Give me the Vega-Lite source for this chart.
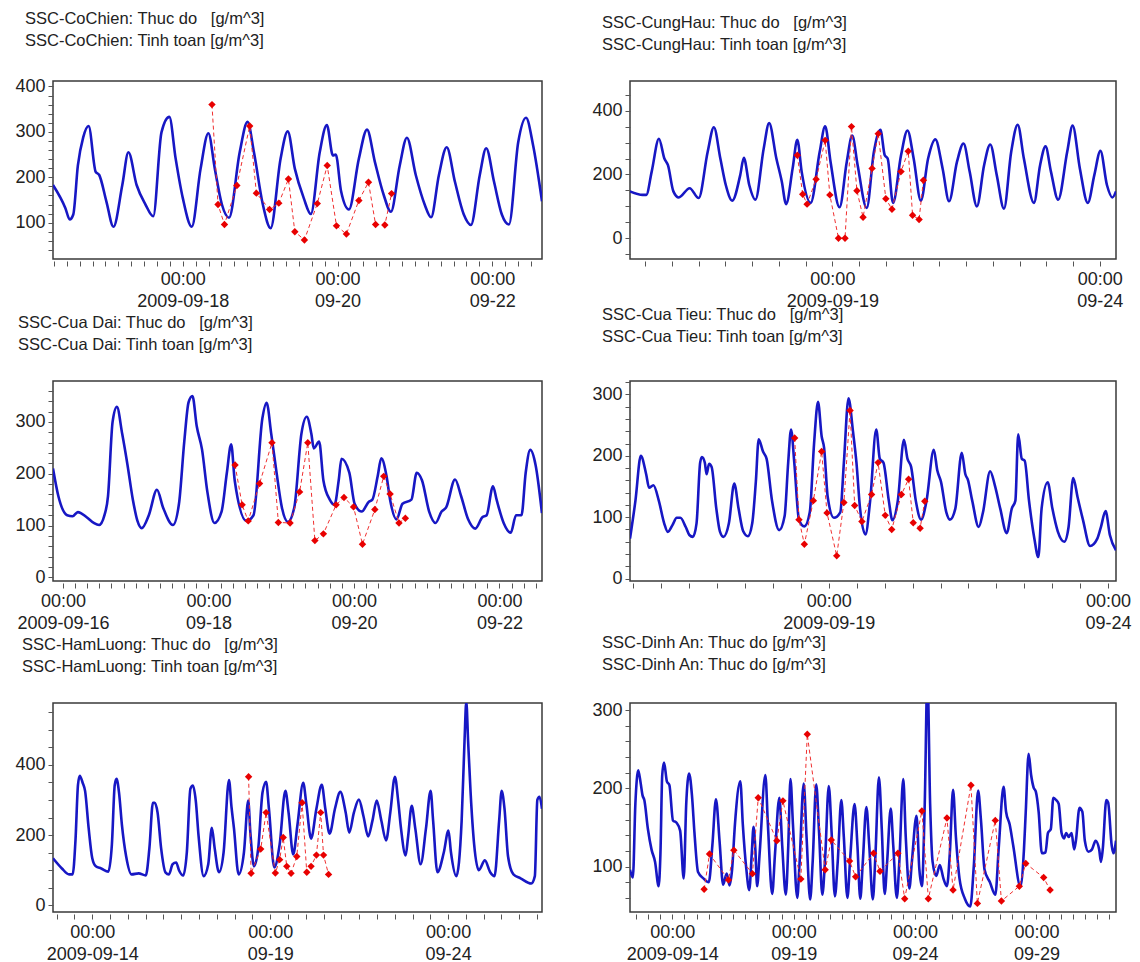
{
  "$schema": "https://vega.github.io/schema/vega-lite/v6.json",
  "padding": {"left": 14, "top": 10, "right": 5, "bottom": 5},
  "background": "white",
  "columns": 2,
  "spacing": {"row": 122, "column": 88},
  "bounds": "flush",
  "config": {
    "font": "Liberation Sans",
    "view": {"stroke": "#3a3a3a", "strokeWidth": 1.5},
    "axis": {"labelFont": "Liberation Sans", "labelFontSize": 18, "labelColor": "#222222", "tickColor": "#555555", "domain": false, "labelOverlap": false, "grid": false},
    "title": {"anchor": "start", "font": "Liberation Sans", "fontSize": 16.5, "fontWeight": "normal", "color": "#222222", "offset": 28, "lineHeight": 22, "dx": 10}
  },
  "datasets": {
    "p1": [
      {"h":103.73,"v":183,"s":"sim"},{"h":107.58,"v":132,"s":"sim"},{"h":108.92,"v":107,"s":"sim"},{"h":110.02,"v":118,"s":"sim"},{"h":111.45,"v":226,"s":"sim"},{"h":113.1,"v":288,"s":"sim"},{"h":114.77,"v":313,"s":"sim"},{"h":116.97,"v":212,"s":"sim"},{"h":118.07,"v":205,"s":"sim"},{"h":120.28,"v":147,"s":"sim"},{"h":122.48,"v":91,"s":"sim"},{"h":125.23,"v":183,"s":"sim"},{"h":127.12,"v":255,"s":"sim"},{"h":129.67,"v":183,"s":"sim"},{"h":132.42,"v":140,"s":"sim"},{"h":134.83,"v":114,"s":"sim"},{"h":137.38,"v":299,"s":"sim"},{"h":139.82,"v":333,"s":"sim"},{"h":141.78,"v":241,"s":"sim"},{"h":144,"v":154,"s":"sim"},{"h":146.77,"v":91,"s":"sim"},{"h":149.52,"v":219,"s":"sim"},{"h":151.93,"v":297,"s":"sim"},{"h":153.93,"v":219,"s":"sim"},{"h":156.13,"v":140,"s":"sim"},{"h":158.35,"v":111,"s":"sim"},{"h":161.65,"v":255,"s":"sim"},{"h":164.08,"v":322,"s":"sim"},{"h":166.07,"v":255,"s":"sim"},{"h":168.83,"v":140,"s":"sim"},{"h":171.25,"v":88,"s":"sim"},{"h":174.33,"v":241,"s":"sim"},{"h":176.55,"v":301,"s":"sim"},{"h":178.75,"v":219,"s":"sim"},{"h":181.52,"v":154,"s":"sim"},{"h":183.72,"v":119,"s":"sim"},{"h":186.48,"v":255,"s":"sim"},{"h":188.68,"v":315,"s":"sim"},{"h":190.57,"v":248,"s":"sim"},{"h":191.45,"v":250,"s":"sim"},{"h":193.1,"v":169,"s":"sim"},{"h":195.53,"v":129,"s":"sim"},{"h":198.62,"v":241,"s":"sim"},{"h":201.15,"v":305,"s":"sim"},{"h":203.58,"v":234,"s":"sim"},{"h":206.33,"v":161,"s":"sim"},{"h":208.55,"v":124,"s":"sim"},{"h":211.3,"v":226,"s":"sim"},{"h":213.52,"v":287,"s":"sim"},{"h":216.27,"v":205,"s":"sim"},{"h":219.03,"v":140,"s":"sim"},{"h":221.02,"v":112,"s":"sim"},{"h":223.45,"v":205,"s":"sim"},{"h":225.87,"v":266,"s":"sim"},{"h":228.42,"v":190,"s":"sim"},{"h":231.17,"v":118,"s":"sim"},{"h":233.38,"v":95,"s":"sim"},{"h":236.13,"v":205,"s":"sim"},{"h":238.12,"v":264,"s":"sim"},{"h":240.55,"v":190,"s":"sim"},{"h":242.97,"v":118,"s":"sim"},{"h":245.18,"v":96,"s":"sim"},{"h":248.05,"v":277,"s":"sim"},{"h":250.48,"v":331,"s":"sim"},{"h":252.68,"v":270,"s":"sim"},{"h":255.43,"v":147,"s":"sim"},
      {"h":153.05,"v":360,"s":"obs"},{"h":154.92,"v":140,"s":"obs"},{"h":156.92,"v":96,"s":"obs"},{"h":160.77,"v":182,"s":"obs"},{"h":164.75,"v":313,"s":"obs"},{"h":166.83,"v":165,"s":"obs"},{"h":170.92,"v":129,"s":"obs"},{"h":173.78,"v":143,"s":"obs"},{"h":176.77,"v":196,"s":"obs"},{"h":178.75,"v":80,"s":"obs"},{"h":181.73,"v":62,"s":"obs"},{"h":185.72,"v":142,"s":"obs"},{"h":188.8,"v":226,"s":"obs"},{"h":191.67,"v":93,"s":"obs"},{"h":194.75,"v":75,"s":"obs"},{"h":198.62,"v":149,"s":"obs"},{"h":201.6,"v":189,"s":"obs"},{"h":203.8,"v":96,"s":"obs"},{"h":206.67,"v":95,"s":"obs"},{"h":208.77,"v":164,"s":"obs"}
    ],
    "p2": [
      {"h":77.18,"v":147,"s":"sim"},{"h":82.87,"v":136,"s":"sim"},{"h":84.48,"v":136,"s":"sim"},{"h":86.92,"v":209,"s":"sim"},{"h":90.17,"v":312,"s":"sim"},{"h":92.6,"v":250,"s":"sim"},{"h":94.22,"v":229,"s":"sim"},{"h":96.65,"v":147,"s":"sim"},{"h":99.08,"v":128,"s":"sim"},{"h":103.95,"v":157,"s":"sim"},{"h":108,"v":126,"s":"sim"},{"h":112.05,"v":271,"s":"sim"},{"h":114.82,"v":348,"s":"sim"},{"h":117.73,"v":250,"s":"sim"},{"h":120.17,"v":167,"s":"sim"},{"h":123.08,"v":118,"s":"sim"},{"h":126.65,"v":198,"s":"sim"},{"h":128.27,"v":252,"s":"sim"},{"h":130.7,"v":167,"s":"sim"},{"h":133.47,"v":121,"s":"sim"},{"h":137.18,"v":281,"s":"sim"},{"h":139.62,"v":361,"s":"sim"},{"h":142.87,"v":250,"s":"sim"},{"h":145.3,"v":178,"s":"sim"},{"h":147.23,"v":107,"s":"sim"},{"h":150.17,"v":219,"s":"sim"},{"h":152.27,"v":309,"s":"sim"},{"h":154.22,"v":209,"s":"sim"},{"h":158.27,"v":111,"s":"sim"},{"h":162.32,"v":271,"s":"sim"},{"h":164.77,"v":351,"s":"sim"},{"h":167.18,"v":240,"s":"sim"},{"h":171.23,"v":97,"s":"sim"},{"h":174.48,"v":240,"s":"sim"},{"h":176.92,"v":322,"s":"sim"},{"h":179.35,"v":229,"s":"sim"},{"h":183.42,"v":95,"s":"sim"},{"h":186.65,"v":271,"s":"sim"},{"h":189.57,"v":340,"s":"sim"},{"h":191.52,"v":260,"s":"sim"},{"h":192.82,"v":250,"s":"sim"},{"h":195.23,"v":111,"s":"sim"},{"h":198.82,"v":260,"s":"sim"},{"h":201.73,"v":338,"s":"sim"},{"h":204.48,"v":250,"s":"sim"},{"h":207.73,"v":118,"s":"sim"},{"h":210.97,"v":250,"s":"sim"},{"h":214.22,"v":310,"s":"sim"},{"h":217.47,"v":219,"s":"sim"},{"h":220.38,"v":116,"s":"sim"},{"h":223.95,"v":240,"s":"sim"},{"h":226.87,"v":297,"s":"sim"},{"h":229.62,"v":209,"s":"sim"},{"h":232.87,"v":100,"s":"sim"},{"h":236.1,"v":229,"s":"sim"},{"h":238.87,"v":294,"s":"sim"},{"h":241.78,"v":198,"s":"sim"},{"h":245.03,"v":93,"s":"sim"},{"h":248.27,"v":271,"s":"sim"},{"h":251.18,"v":356,"s":"sim"},{"h":253.95,"v":250,"s":"sim"},{"h":258.48,"v":111,"s":"sim"},{"h":261.23,"v":229,"s":"sim"},{"h":263.68,"v":288,"s":"sim"},{"h":266.1,"v":209,"s":"sim"},{"h":269.35,"v":121,"s":"sim"},{"h":273.4,"v":271,"s":"sim"},{"h":275.83,"v":353,"s":"sim"},{"h":279.08,"v":219,"s":"sim"},{"h":282.65,"v":111,"s":"sim"},{"h":285.57,"v":198,"s":"sim"},{"h":288.32,"v":274,"s":"sim"},{"h":291.23,"v":167,"s":"sim"},{"h":293.68,"v":128,"s":"sim"},{"h":295.3,"v":147,"s":"sim"},
      {"h":152.27,"v":260,"s":"obs"},{"h":154.7,"v":138,"s":"obs"},{"h":156.65,"v":107,"s":"obs"},{"h":160.7,"v":185,"s":"obs"},{"h":164.77,"v":307,"s":"obs"},{"h":166.87,"v":136,"s":"obs"},{"h":170.75,"v":0,"s":"obs"},{"h":173.68,"v":0,"s":"obs"},{"h":176.58,"v":350,"s":"obs"},{"h":179.03,"v":149,"s":"obs"},{"h":181.78,"v":66,"s":"obs"},{"h":185.83,"v":219,"s":"obs"},{"h":188.58,"v":328,"s":"obs"},{"h":192,"v":124,"s":"obs"},{"h":194.75,"v":91,"s":"obs"},{"h":198.82,"v":209,"s":"obs"},{"h":202.05,"v":273,"s":"obs"},{"h":204,"v":72,"s":"obs"},{"h":206.92,"v":59,"s":"obs"},{"h":208.87,"v":182,"s":"obs"}
    ],
    "p3": [
      {"h":92.72,"v":210,"s":"sim"},{"h":94.48,"v":157,"s":"sim"},{"h":97.4,"v":120,"s":"sim"},{"h":99.17,"v":118,"s":"sim"},{"h":100.92,"v":126,"s":"sim"},{"h":103.83,"v":116,"s":"sim"},{"h":106.18,"v":105,"s":"sim"},{"h":107.93,"v":101,"s":"sim"},{"h":109.7,"v":120,"s":"sim"},{"h":110.87,"v":157,"s":"sim"},{"h":112.38,"v":300,"s":"sim"},{"h":113.8,"v":329,"s":"sim"},{"h":115.55,"v":277,"s":"sim"},{"h":117.3,"v":217,"s":"sim"},{"h":119.07,"v":150,"s":"sim"},{"h":120.58,"v":109,"s":"sim"},{"h":121.98,"v":95,"s":"sim"},{"h":124.33,"v":120,"s":"sim"},{"h":127.02,"v":169,"s":"sim"},{"h":129.02,"v":135,"s":"sim"},{"h":132.28,"v":101,"s":"sim"},{"h":134.28,"v":142,"s":"sim"},{"h":136.03,"v":262,"s":"sim"},{"h":137.45,"v":338,"s":"sim"},{"h":138.73,"v":350,"s":"sim"},{"h":140.13,"v":292,"s":"sim"},{"h":141.88,"v":247,"s":"sim"},{"h":143.65,"v":165,"s":"sim"},{"h":145.98,"v":105,"s":"sim"},{"h":148.33,"v":127,"s":"sim"},{"h":150.08,"v":202,"s":"sim"},{"h":151.5,"v":257,"s":"sim"},{"h":152.67,"v":187,"s":"sim"},{"h":156.53,"v":109,"s":"sim"},{"h":158.87,"v":120,"s":"sim"},{"h":161.8,"v":307,"s":"sim"},{"h":163.2,"v":337,"s":"sim"},{"h":164.72,"v":277,"s":"sim"},{"h":166.48,"v":202,"s":"sim"},{"h":168.23,"v":135,"s":"sim"},{"h":170.22,"v":107,"s":"sim"},{"h":172.33,"v":135,"s":"sim"},{"h":174.67,"v":277,"s":"sim"},{"h":176.43,"v":310,"s":"sim"},{"h":177.95,"v":277,"s":"sim"},{"h":178.77,"v":249,"s":"sim"},{"h":180.52,"v":262,"s":"sim"},{"h":181.93,"v":187,"s":"sim"},{"h":184.03,"v":150,"s":"sim"},{"h":185.57,"v":140,"s":"sim"},{"h":186.97,"v":187,"s":"sim"},{"h":187.9,"v":229,"s":"sim"},{"h":190.48,"v":202,"s":"sim"},{"h":192.23,"v":142,"s":"sim"},{"h":194.57,"v":127,"s":"sim"},{"h":196.92,"v":146,"s":"sim"},{"h":198.08,"v":150,"s":"sim"},{"h":199.83,"v":195,"s":"sim"},{"h":201.02,"v":230,"s":"sim"},{"h":202.77,"v":195,"s":"sim"},{"h":203.93,"v":150,"s":"sim"},{"h":206.05,"v":112,"s":"sim"},{"h":208.03,"v":142,"s":"sim"},{"h":210.97,"v":150,"s":"sim"},{"h":212.72,"v":202,"s":"sim"},{"h":214.48,"v":187,"s":"sim"},{"h":216.82,"v":127,"s":"sim"},{"h":218.92,"v":105,"s":"sim"},{"h":220.92,"v":127,"s":"sim"},{"h":222.43,"v":135,"s":"sim"},{"h":225.37,"v":189,"s":"sim"},{"h":227.35,"v":157,"s":"sim"},{"h":229.68,"v":112,"s":"sim"},{"h":232.03,"v":94,"s":"sim"},{"h":234.38,"v":116,"s":"sim"},{"h":235.78,"v":120,"s":"sim"},{"h":237.88,"v":176,"s":"sim"},{"h":239.07,"v":150,"s":"sim"},{"h":241.4,"v":105,"s":"sim"},{"h":243.73,"v":86,"s":"sim"},{"h":245.5,"v":120,"s":"sim"},{"h":247.27,"v":120,"s":"sim"},{"h":248.67,"v":202,"s":"sim"},{"h":250.18,"v":246,"s":"sim"},{"h":251.93,"v":217,"s":"sim"},{"h":254.03,"v":124,"s":"sim"},
      {"h":152.78,"v":217,"s":"obs"},{"h":155.12,"v":140,"s":"obs"},{"h":157.12,"v":109,"s":"obs"},{"h":160.87,"v":181,"s":"obs"},{"h":164.97,"v":260,"s":"obs"},{"h":167.07,"v":106,"s":"obs"},{"h":170.93,"v":105,"s":"obs"},{"h":174.08,"v":165,"s":"obs"},{"h":176.78,"v":260,"s":"obs"},{"h":179.12,"v":71,"s":"obs"},{"h":181.93,"v":84,"s":"obs"},{"h":186.13,"v":140,"s":"obs"},{"h":188.72,"v":154,"s":"obs"},{"h":191.88,"v":136,"s":"obs"},{"h":194.82,"v":64,"s":"obs"},{"h":198.9,"v":131,"s":"obs"},{"h":201.83,"v":195,"s":"obs"},{"h":203.93,"v":161,"s":"obs"},{"h":206.87,"v":105,"s":"obs"},{"h":208.97,"v":114,"s":"obs"}
    ],
    "p4": [
      {"h":82.58,"v":65,"s":"sim"},{"h":84.92,"v":127,"s":"sim"},{"h":87.23,"v":200,"s":"sim"},{"h":89.53,"v":170,"s":"sim"},{"h":90.78,"v":148,"s":"sim"},{"h":92.63,"v":152,"s":"sim"},{"h":94.95,"v":127,"s":"sim"},{"h":97.27,"v":90,"s":"sim"},{"h":98.82,"v":76,"s":"sim"},{"h":100.82,"v":87,"s":"sim"},{"h":102.67,"v":99,"s":"sim"},{"h":104.22,"v":99,"s":"sim"},{"h":106.53,"v":84,"s":"sim"},{"h":108.08,"v":71,"s":"sim"},{"h":109.62,"v":68,"s":"sim"},{"h":111.17,"v":90,"s":"sim"},{"h":112.72,"v":189,"s":"sim"},{"h":113.48,"v":198,"s":"sim"},{"h":114.72,"v":189,"s":"sim"},{"h":115.48,"v":170,"s":"sim"},{"h":116.57,"v":187,"s":"sim"},{"h":117.65,"v":182,"s":"sim"},{"h":119.67,"v":114,"s":"sim"},{"h":121.2,"v":77,"s":"sim"},{"h":122.75,"v":68,"s":"sim"},{"h":125.07,"v":90,"s":"sim"},{"h":127.38,"v":155,"s":"sim"},{"h":129.23,"v":114,"s":"sim"},{"h":131.23,"v":77,"s":"sim"},{"h":133.25,"v":69,"s":"sim"},{"h":135.1,"v":90,"s":"sim"},{"h":136.65,"v":158,"s":"sim"},{"h":137.88,"v":227,"s":"sim"},{"h":139.73,"v":207,"s":"sim"},{"h":141.28,"v":195,"s":"sim"},{"h":143.6,"v":127,"s":"sim"},{"h":146.68,"v":79,"s":"sim"},{"h":149.02,"v":102,"s":"sim"},{"h":150.55,"v":189,"s":"sim"},{"h":151.78,"v":243,"s":"sim"},{"h":153.17,"v":189,"s":"sim"},{"h":155.18,"v":96,"s":"sim"},{"h":157.5,"v":85,"s":"sim"},{"h":159.82,"v":108,"s":"sim"},{"h":161.67,"v":220,"s":"sim"},{"h":163.37,"v":288,"s":"sim"},{"h":164.92,"v":232,"s":"sim"},{"h":165.98,"v":213,"s":"sim"},{"h":167.53,"v":133,"s":"sim"},{"h":170.17,"v":99,"s":"sim"},{"h":172.93,"v":108,"s":"sim"},{"h":174.48,"v":189,"s":"sim"},{"h":176.48,"v":294,"s":"sim"},{"h":178.35,"v":241,"s":"sim"},{"h":179.88,"v":189,"s":"sim"},{"h":181.43,"v":114,"s":"sim"},{"h":183.75,"v":72,"s":"sim"},{"h":185.77,"v":127,"s":"sim"},{"h":188.38,"v":243,"s":"sim"},{"h":189.93,"v":195,"s":"sim"},{"h":191.47,"v":189,"s":"sim"},{"h":193.78,"v":127,"s":"sim"},{"h":195.33,"v":95,"s":"sim"},{"h":197.65,"v":127,"s":"sim"},{"h":200.28,"v":226,"s":"sim"},{"h":201.82,"v":195,"s":"sim"},{"h":203.37,"v":182,"s":"sim"},{"h":205.37,"v":127,"s":"sim"},{"h":207.68,"v":96,"s":"sim"},{"h":210,"v":127,"s":"sim"},{"h":213.1,"v":210,"s":"sim"},{"h":214.63,"v":176,"s":"sim"},{"h":216.18,"v":158,"s":"sim"},{"h":218.5,"v":108,"s":"sim"},{"h":220.05,"v":96,"s":"sim"},{"h":222.37,"v":114,"s":"sim"},{"h":225.13,"v":205,"s":"sim"},{"h":226.68,"v":170,"s":"sim"},{"h":227.77,"v":161,"s":"sim"},{"h":229.62,"v":127,"s":"sim"},{"h":232.4,"v":84,"s":"sim"},{"h":234.25,"v":108,"s":"sim"},{"h":237.33,"v":175,"s":"sim"},{"h":239.35,"v":152,"s":"sim"},{"h":241.67,"v":114,"s":"sim"},{"h":244.45,"v":74,"s":"sim"},{"h":246.62,"v":114,"s":"sim"},{"h":248.17,"v":127,"s":"sim"},{"h":249.38,"v":235,"s":"sim"},{"h":250.93,"v":195,"s":"sim"},{"h":252.17,"v":192,"s":"sim"},{"h":254.02,"v":127,"s":"sim"},{"h":256.33,"v":65,"s":"sim"},{"h":258.03,"v":35,"s":"sim"},{"h":259.43,"v":114,"s":"sim"},{"h":262.05,"v":157,"s":"sim"},{"h":264.07,"v":114,"s":"sim"},{"h":266.37,"v":77,"s":"sim"},{"h":269.17,"v":60,"s":"sim"},{"h":271.02,"v":84,"s":"sim"},{"h":273.02,"v":164,"s":"sim"},{"h":274.87,"v":133,"s":"sim"},{"h":277.18,"v":96,"s":"sim"},{"h":280.28,"v":53,"s":"sim"},{"h":283.37,"v":65,"s":"sim"},{"h":284.92,"v":84,"s":"sim"},{"h":286.92,"v":110,"s":"sim"},{"h":288.77,"v":71,"s":"sim"},{"h":291.4,"v":46,"s":"sim"},
      {"h":153.33,"v":229,"s":"obs"},{"h":155.18,"v":96,"s":"obs"},{"h":157.5,"v":56,"s":"obs"},{"h":161.37,"v":127,"s":"obs"},{"h":164.92,"v":207,"s":"obs"},{"h":167.23,"v":107,"s":"obs"},{"h":171.4,"v":37,"s":"obs"},{"h":174.48,"v":124,"s":"obs"},{"h":177.12,"v":274,"s":"obs"},{"h":179.12,"v":119,"s":"obs"},{"h":182.22,"v":93,"s":"obs"},{"h":186.38,"v":137,"s":"obs"},{"h":189.17,"v":189,"s":"obs"},{"h":192.25,"v":103,"s":"obs"},{"h":195.03,"v":80,"s":"obs"},{"h":199.2,"v":137,"s":"obs"},{"h":202.28,"v":162,"s":"obs"},{"h":204.28,"v":91,"s":"obs"},{"h":207.23,"v":82,"s":"obs"},{"h":209.23,"v":126,"s":"obs"}
    ],
    "p5": [
      {"h":21.52,"v":134,"s":"sim"},{"h":27.53,"v":105,"s":"sim"},{"h":32.35,"v":88,"s":"sim"},{"h":34.77,"v":88,"s":"sim"},{"h":36.68,"v":185,"s":"sim"},{"h":38.37,"v":343,"s":"sim"},{"h":39.57,"v":369,"s":"sim"},{"h":41.5,"v":349,"s":"sim"},{"h":43.18,"v":325,"s":"sim"},{"h":45.58,"v":219,"s":"sim"},{"h":48,"v":134,"s":"sim"},{"h":50.4,"v":111,"s":"sim"},{"h":54.02,"v":105,"s":"sim"},{"h":58.83,"v":96,"s":"sim"},{"h":61.23,"v":173,"s":"sim"},{"h":63.17,"v":343,"s":"sim"},{"h":64.37,"v":360,"s":"sim"},{"h":66.05,"v":321,"s":"sim"},{"h":67.98,"v":230,"s":"sim"},{"h":70.87,"v":139,"s":"sim"},{"h":74.48,"v":88,"s":"sim"},{"h":79.28,"v":91,"s":"sim"},{"h":84.1,"v":85,"s":"sim"},{"h":86.52,"v":162,"s":"sim"},{"h":88.92,"v":292,"s":"sim"},{"h":90.13,"v":292,"s":"sim"},{"h":92.05,"v":264,"s":"sim"},{"h":94.45,"v":162,"s":"sim"},{"h":97.35,"v":94,"s":"sim"},{"h":99.75,"v":88,"s":"sim"},{"h":102.17,"v":117,"s":"sim"},{"h":104.57,"v":122,"s":"sim"},{"h":106.48,"v":100,"s":"sim"},{"h":109.38,"v":85,"s":"sim"},{"h":111.78,"v":151,"s":"sim"},{"h":114.2,"v":332,"s":"sim"},{"h":115.88,"v":341,"s":"sim"},{"h":117.8,"v":298,"s":"sim"},{"h":119.73,"v":196,"s":"sim"},{"h":123.1,"v":83,"s":"sim"},{"h":126.23,"v":117,"s":"sim"},{"h":128.63,"v":221,"s":"sim"},{"h":130.57,"v":162,"s":"sim"},{"h":133.45,"v":94,"s":"sim"},{"h":136.58,"v":151,"s":"sim"},{"h":140.2,"v":357,"s":"sim"},{"h":141.88,"v":281,"s":"sim"},{"h":143.57,"v":219,"s":"sim"},{"h":146.7,"v":88,"s":"sim"},{"h":150.3,"v":151,"s":"sim"},{"h":153.2,"v":298,"s":"sim"},{"h":154.63,"v":207,"s":"sim"},{"h":157.05,"v":111,"s":"sim"},{"h":159.93,"v":162,"s":"sim"},{"h":162.82,"v":321,"s":"sim"},{"h":165.23,"v":352,"s":"sim"},{"h":167.15,"v":275,"s":"sim"},{"h":170.77,"v":108,"s":"sim"},{"h":174.38,"v":173,"s":"sim"},{"h":178.23,"v":326,"s":"sim"},{"h":180.4,"v":264,"s":"sim"},{"h":183.53,"v":145,"s":"sim"},{"h":186.42,"v":230,"s":"sim"},{"h":190.27,"v":349,"s":"sim"},{"h":192.43,"v":287,"s":"sim"},{"h":195.57,"v":190,"s":"sim"},{"h":199.17,"v":275,"s":"sim"},{"h":202.78,"v":343,"s":"sim"},{"h":205.18,"v":275,"s":"sim"},{"h":208.08,"v":204,"s":"sim"},{"h":211.68,"v":275,"s":"sim"},{"h":215.3,"v":323,"s":"sim"},{"h":218.92,"v":264,"s":"sim"},{"h":221.32,"v":207,"s":"sim"},{"h":224.45,"v":264,"s":"sim"},{"h":227.82,"v":301,"s":"sim"},{"h":230.95,"v":253,"s":"sim"},{"h":234.08,"v":196,"s":"sim"},{"h":236.97,"v":241,"s":"sim"},{"h":239.85,"v":298,"s":"sim"},{"h":242.98,"v":241,"s":"sim"},{"h":246.12,"v":185,"s":"sim"},{"h":249,"v":264,"s":"sim"},{"h":252.13,"v":366,"s":"sim"},{"h":254.3,"v":298,"s":"sim"},{"h":256.22,"v":219,"s":"sim"},{"h":259.35,"v":142,"s":"sim"},{"h":261.03,"v":196,"s":"sim"},{"h":263.43,"v":283,"s":"sim"},{"h":265.85,"v":219,"s":"sim"},{"h":269.47,"v":117,"s":"sim"},{"h":273.07,"v":219,"s":"sim"},{"h":276.2,"v":326,"s":"sim"},{"h":277.88,"v":241,"s":"sim"},{"h":280.78,"v":94,"s":"sim"},{"h":285.12,"v":151,"s":"sim"},{"h":288.23,"v":213,"s":"sim"},{"h":289.92,"v":151,"s":"sim"},{"h":293.53,"v":83,"s":"sim"},{"h":297.13,"v":241,"s":"sim"},{"h":299.07,"v":468,"s":"sim"},{"h":300.27,"v":580,"s":"sim"},{"h":301.48,"v":468,"s":"sim"},{"h":303.17,"v":321,"s":"sim"},{"h":305.57,"v":173,"s":"sim"},{"h":308.7,"v":100,"s":"sim"},{"h":312.78,"v":128,"s":"sim"},{"h":316.4,"v":94,"s":"sim"},{"h":319.28,"v":83,"s":"sim"},{"h":322.42,"v":241,"s":"sim"},{"h":324.1,"v":326,"s":"sim"},{"h":326.03,"v":275,"s":"sim"},{"h":328.43,"v":139,"s":"sim"},{"h":332.05,"v":88,"s":"sim"},{"h":336.87,"v":77,"s":"sim"},{"h":344.08,"v":62,"s":"sim"},{"h":346.5,"v":83,"s":"sim"},{"h":348.18,"v":300,"s":"sim"},{"h":349.62,"v":309,"s":"sim"},{"h":351.32,"v":275,"s":"sim"},
      {"h":153.43,"v":366,"s":"obs"},{"h":155.13,"v":91,"s":"obs"},{"h":161.62,"v":160,"s":"obs"},{"h":165.23,"v":264,"s":"obs"},{"h":171.48,"v":92,"s":"obs"},{"h":174.38,"v":130,"s":"obs"},{"h":176.78,"v":193,"s":"obs"},{"h":179.18,"v":111,"s":"obs"},{"h":182.08,"v":91,"s":"obs"},{"h":185.93,"v":139,"s":"obs"},{"h":189.53,"v":292,"s":"obs"},{"h":192.67,"v":94,"s":"obs"},{"h":195.57,"v":111,"s":"obs"},{"h":199.17,"v":143,"s":"obs"},{"h":202.07,"v":264,"s":"obs"},{"h":203.98,"v":143,"s":"obs"},{"h":207.37,"v":88,"s":"obs"}
    ],
    "p6": [
      {"h":6.23,"v":96,"s":"sim"},{"h":9.07,"v":86,"s":"sim"},{"h":11.53,"v":180,"s":"sim"},{"h":14.37,"v":223,"s":"sim"},{"h":16.85,"v":206,"s":"sim"},{"h":18.62,"v":191,"s":"sim"},{"h":20.38,"v":185,"s":"sim"},{"h":23.93,"v":148,"s":"sim"},{"h":27.47,"v":122,"s":"sim"},{"h":31.02,"v":106,"s":"sim"},{"h":34.55,"v":75,"s":"sim"},{"h":36.32,"v":117,"s":"sim"},{"h":38.08,"v":217,"s":"sim"},{"h":39.87,"v":233,"s":"sim"},{"h":42.68,"v":209,"s":"sim"},{"h":45.17,"v":204,"s":"sim"},{"h":48.7,"v":159,"s":"sim"},{"h":52.25,"v":156,"s":"sim"},{"h":55.78,"v":146,"s":"sim"},{"h":59.33,"v":85,"s":"sim"},{"h":61.8,"v":180,"s":"sim"},{"h":64.63,"v":219,"s":"sim"},{"h":67.47,"v":191,"s":"sim"},{"h":69.95,"v":143,"s":"sim"},{"h":73.48,"v":93,"s":"sim"},{"h":78.8,"v":85,"s":"sim"},{"h":84.1,"v":80,"s":"sim"},{"h":87.63,"v":127,"s":"sim"},{"h":91.18,"v":186,"s":"sim"},{"h":94.72,"v":133,"s":"sim"},{"h":98.27,"v":77,"s":"sim"},{"h":101.8,"v":91,"s":"sim"},{"h":104.63,"v":76,"s":"sim"},{"h":107.12,"v":96,"s":"sim"},{"h":109.95,"v":154,"s":"sim"},{"h":115.25,"v":209,"s":"sim"},{"h":117.73,"v":154,"s":"sim"},{"h":121.27,"v":96,"s":"sim"},{"h":124.1,"v":70,"s":"sim"},{"h":126.58,"v":117,"s":"sim"},{"h":128.35,"v":151,"s":"sim"},{"h":130.12,"v":122,"s":"sim"},{"h":131.88,"v":75,"s":"sim"},{"h":134.37,"v":117,"s":"sim"},{"h":140.03,"v":217,"s":"sim"},{"h":142.52,"v":154,"s":"sim"},{"h":146.75,"v":65,"s":"sim"},{"h":149.58,"v":117,"s":"sim"},{"h":153.83,"v":188,"s":"sim"},{"h":156.67,"v":127,"s":"sim"},{"h":160.22,"v":64,"s":"sim"},{"h":162.68,"v":127,"s":"sim"},{"h":164.82,"v":212,"s":"sim"},{"h":167.28,"v":154,"s":"sim"},{"h":171.53,"v":60,"s":"sim"},{"h":173.67,"v":101,"s":"sim"},{"h":177.92,"v":206,"s":"sim"},{"h":180.73,"v":138,"s":"sim"},{"h":184.28,"v":58,"s":"sim"},{"h":186.77,"v":106,"s":"sim"},{"h":190.3,"v":205,"s":"sim"},{"h":193.13,"v":143,"s":"sim"},{"h":196.32,"v":64,"s":"sim"},{"h":199.15,"v":112,"s":"sim"},{"h":202.68,"v":203,"s":"sim"},{"h":205.52,"v":143,"s":"sim"},{"h":208.72,"v":62,"s":"sim"},{"h":211.53,"v":106,"s":"sim"},{"h":215.08,"v":185,"s":"sim"},{"h":217.57,"v":138,"s":"sim"},{"h":221.1,"v":60,"s":"sim"},{"h":223.93,"v":112,"s":"sim"},{"h":228.18,"v":180,"s":"sim"},{"h":231.02,"v":127,"s":"sim"},{"h":233.83,"v":59,"s":"sim"},{"h":236.32,"v":106,"s":"sim"},{"h":239.87,"v":176,"s":"sim"},{"h":242.68,"v":127,"s":"sim"},{"h":246.23,"v":58,"s":"sim"},{"h":248.72,"v":112,"s":"sim"},{"h":252.25,"v":214,"s":"sim"},{"h":255.08,"v":148,"s":"sim"},{"h":257.92,"v":65,"s":"sim"},{"h":260.38,"v":106,"s":"sim"},{"h":263.93,"v":174,"s":"sim"},{"h":266.42,"v":127,"s":"sim"},{"h":269.95,"v":60,"s":"sim"},{"h":272.42,"v":106,"s":"sim"},{"h":276.32,"v":212,"s":"sim"},{"h":278.78,"v":138,"s":"sim"},{"h":282.33,"v":72,"s":"sim"},{"h":284.82,"v":106,"s":"sim"},{"h":289.42,"v":165,"s":"sim"},{"h":292.25,"v":96,"s":"sim"},{"h":294.72,"v":75,"s":"sim"},{"h":297.55,"v":180,"s":"sim"},{"h":300.22,"v":345,"s":"sim"},{"h":302.87,"v":180,"s":"sim"},{"h":305.33,"v":106,"s":"sim"},{"h":308.88,"v":88,"s":"sim"},{"h":312.42,"v":102,"s":"sim"},{"h":315.97,"v":85,"s":"sim"},{"h":319.5,"v":75,"s":"sim"},{"h":322.33,"v":117,"s":"sim"},{"h":325.52,"v":198,"s":"sim"},{"h":328.35,"v":138,"s":"sim"},{"h":331.88,"v":85,"s":"sim"},{"h":337.2,"v":59,"s":"sim"},{"h":342.52,"v":49,"s":"sim"},{"h":346.05,"v":101,"s":"sim"},{"h":350.3,"v":197,"s":"sim"},{"h":353.13,"v":159,"s":"sim"},{"h":356.67,"v":96,"s":"sim"},{"h":361.98,"v":80,"s":"sim"},{"h":367.28,"v":64,"s":"sim"},{"h":370.83,"v":127,"s":"sim"},{"h":375.43,"v":202,"s":"sim"},{"h":377.92,"v":170,"s":"sim"},{"h":381.45,"v":154,"s":"sim"},{"h":384.98,"v":127,"s":"sim"},{"h":392.07,"v":75,"s":"sim"},{"h":395.62,"v":122,"s":"sim"},{"h":397.38,"v":170,"s":"sim"},{"h":400.22,"v":244,"s":"sim"},{"h":402.68,"v":217,"s":"sim"},{"h":405.17,"v":201,"s":"sim"},{"h":407.28,"v":196,"s":"sim"},{"h":410.12,"v":170,"s":"sim"},{"h":413.3,"v":117,"s":"sim"},{"h":416.85,"v":118,"s":"sim"},{"h":419.32,"v":143,"s":"sim"},{"h":422.17,"v":148,"s":"sim"},{"h":424.63,"v":188,"s":"sim"},{"h":427.47,"v":185,"s":"sim"},{"h":429.95,"v":180,"s":"sim"},{"h":432.78,"v":143,"s":"sim"},{"h":435.25,"v":136,"s":"sim"},{"h":437.38,"v":143,"s":"sim"},{"h":439.87,"v":138,"s":"sim"},{"h":442.68,"v":143,"s":"sim"},{"h":445.17,"v":122,"s":"sim"},{"h":446.93,"v":133,"s":"sim"},{"h":450.48,"v":175,"s":"sim"},{"h":453.32,"v":170,"s":"sim"},{"h":455.78,"v":133,"s":"sim"},{"h":459.33,"v":119,"s":"sim"},{"h":462.87,"v":122,"s":"sim"},{"h":466.42,"v":133,"s":"sim"},{"h":469.95,"v":122,"s":"sim"},{"h":471.72,"v":106,"s":"sim"},{"h":473.48,"v":122,"s":"sim"},{"h":477.03,"v":185,"s":"sim"},{"h":478.8,"v":182,"s":"sim"},{"h":482.33,"v":127,"s":"sim"},{"h":484.12,"v":117,"s":"sim"},{"h":486.58,"v":133,"s":"sim"},
      {"h":79.5,"v":71,"s":"obs"},{"h":84.82,"v":116,"s":"obs"},{"h":103.57,"v":83,"s":"obs"},{"h":108.88,"v":121,"s":"obs"},{"h":127.28,"v":91,"s":"obs"},{"h":132.95,"v":188,"s":"obs"},{"h":151.37,"v":133,"s":"obs"},{"h":157.38,"v":184,"s":"obs"},{"h":175.08,"v":84,"s":"obs"},{"h":181.45,"v":269,"s":"obs"},{"h":199.15,"v":96,"s":"obs"},{"h":205.17,"v":134,"s":"obs"},{"h":223.22,"v":107,"s":"obs"},{"h":229.23,"v":87,"s":"obs"},{"h":246.93,"v":117,"s":"obs"},{"h":253.32,"v":94,"s":"obs"},{"h":271.02,"v":117,"s":"obs"},{"h":277.73,"v":59,"s":"obs"},{"h":294.72,"v":171,"s":"obs"},{"h":301.1,"v":59,"s":"obs"},{"h":319.5,"v":162,"s":"obs"},{"h":325.52,"v":70,"s":"obs"},{"h":343.22,"v":204,"s":"obs"},{"h":349.58,"v":53,"s":"obs"},{"h":367.28,"v":159,"s":"obs"},{"h":373.32,"v":56,"s":"obs"},{"h":391.02,"v":75,"s":"obs"},{"h":397.38,"v":104,"s":"obs"},{"h":415.08,"v":86,"s":"obs"},{"h":421.45,"v":70,"s":"obs"}
    ]
  },
  "concat": [
    {
      "width": 489, "height": 178,
      "title": {"text": ["SSC-CoChien: Thuc do\u00a0\u00a0\u00a0[g/m^3]", "SSC-CoChien: Tinh toan [g/m^3]"]},
      "data": {"name": "p1"},
      "encoding": {
        "x": {"field": "h", "type": "quantitative", "scale": {"domain": [103.73, 255.43], "nice": false, "zero": false},
          "axis": {"title": null, "values": [104,108,112,116,120,124,128,132,136,140,144,148,152,156,160,164,168,172,176,180,184,188,192,196,200,204,208,212,216,220,224,228,232,236,240,244,248,252], "labelExpr": "datum.value%48==0 ? ['00:00', datum.value==144 ? '2009-09-18' : '09-' + (12 + datum.value/24)] : ''", "labelFlush": false, "tickSize": 5, "offset": 2, "labelPadding": 4, "labelLineHeight": 22}},
        "y": {"field": "v", "type": "quantitative", "scale": {"domain": [20, 412], "nice": false, "zero": false},
          "axis": {"title": null, "values": [40,60,80,100,120,140,160,180,200,220,240,260,280,300,320,340,360,380,400], "labelExpr": "datum.value%100==0 ? datum.label : ''", "tickSize": 5, "labelPadding": 3}}
      },
      "layer": [
        {"transform": [{"filter": "datum.s=='sim'"}], "mark": {"type": "line", "interpolate": "monotone", "strokeWidth": 2.6, "color": "#1717c4", "clip": true}, "encoding": {}},
        {"transform": [{"filter": "datum.s=='obs'"}], "mark": {"type": "line", "strokeWidth": 1, "strokeDash": [4, 3], "color": "#f03030", "clip": true}, "encoding": {}},
        {"transform": [{"filter": "datum.s=='obs'"}], "mark": {"type": "point", "shape": "diamond", "filled": true, "size": 55, "color": "#e80000", "opacity": 1, "clip": true}, "encoding": {}}
      ]
    },
    {
      "width": 486, "height": 178,
      "title": {"text": ["SSC-CungHau: Thuc do\u00a0\u00a0\u00a0[g/m^3]", "SSC-CungHau: Tinh toan [g/m^3]"]},
      "data": {"name": "p2"},
      "encoding": {
        "x": {"field": "h", "type": "quantitative", "scale": {"domain": [77.18, 295.3], "nice": false, "zero": false},
          "axis": {"title": null, "values": [84,96,108,120,132,144,156,168,180,192,204,216,228,240,252,264,276,288], "labelExpr": "(datum.value-48)%120==0 ? ['00:00', datum.value==168 ? '2009-09-19' : '09-' + (12 + datum.value/24)] : ''", "labelFlush": false, "tickSize": 5, "offset": 2, "labelPadding": 4, "labelLineHeight": 22}},
        "y": {"field": "v", "type": "quantitative", "scale": {"domain": [-65, 493], "nice": false, "zero": false},
          "axis": {"title": null, "values": [-50,0,50,100,150,200,250,300,350,400,450], "labelExpr": "datum.value%200==0 ? datum.label : ''", "tickSize": 5, "labelPadding": 3}}
      },
      "layer": [
        {"transform": [{"filter": "datum.s=='sim'"}], "mark": {"type": "line", "interpolate": "monotone", "strokeWidth": 2.6, "color": "#1717c4", "clip": true}, "encoding": {}},
        {"transform": [{"filter": "datum.s=='obs'"}], "mark": {"type": "line", "strokeWidth": 1, "strokeDash": [4, 3], "color": "#f03030", "clip": true}, "encoding": {}},
        {"transform": [{"filter": "datum.s=='obs'"}], "mark": {"type": "point", "shape": "diamond", "filled": true, "size": 55, "color": "#e80000", "opacity": 1, "clip": true}, "encoding": {}}
      ]
    },
    {
      "width": 489, "height": 200,
      "title": {"text": ["SSC-Cua Dai: Thuc do\u00a0\u00a0\u00a0[g/m^3]", "SSC-Cua Dai: Tinh toan [g/m^3]"], "dx": 3},
      "data": {"name": "p3"},
      "encoding": {
        "x": {"field": "h", "type": "quantitative", "scale": {"domain": [92.72, 254.05], "nice": false, "zero": false},
          "axis": {"title": null, "values": [96,100,104,108,112,116,120,124,128,132,136,140,144,148,152,156,160,164,168,172,176,180,184,188,192,196,200,204,208,212,216,220,224,228,232,236,240,244,248,252], "labelExpr": "datum.value%48==0 ? ['00:00', datum.value==96 ? '2009-09-16' : '09-' + (12 + datum.value/24)] : ''", "labelFlush": false, "tickSize": 5, "offset": 2, "labelPadding": 4, "labelLineHeight": 22}},
        "y": {"field": "v", "type": "quantitative", "scale": {"domain": [-7, 379], "nice": false, "zero": false},
          "axis": {"title": null, "values": [0,20,40,60,80,100,120,140,160,180,200,220,240,260,280,300,320,340,360], "labelExpr": "datum.value%100==0 ? datum.label : ''", "tickSize": 5, "labelPadding": 3}}
      },
      "layer": [
        {"transform": [{"filter": "datum.s=='sim'"}], "mark": {"type": "line", "interpolate": "monotone", "strokeWidth": 2.6, "color": "#1717c4", "clip": true}, "encoding": {}},
        {"transform": [{"filter": "datum.s=='obs'"}], "mark": {"type": "line", "strokeWidth": 1, "strokeDash": [4, 3], "color": "#f03030", "clip": true}, "encoding": {}},
        {"transform": [{"filter": "datum.s=='obs'"}], "mark": {"type": "point", "shape": "diamond", "filled": true, "size": 55, "color": "#e80000", "opacity": 1, "clip": true}, "encoding": {}}
      ]
    },
    {
      "width": 486, "height": 200,
      "title": {"text": ["SSC-Cua Tieu: Thuc do\u00a0\u00a0\u00a0[g/m^3]", "SSC-Cua Tieu: Tinh toan [g/m^3]"]},
      "data": {"name": "p4"},
      "encoding": {
        "x": {"field": "h", "type": "quantitative", "scale": {"domain": [82.58, 291.4], "nice": false, "zero": false},
          "axis": {"title": null, "values": [84,96,108,120,132,144,156,168,180,192,204,216,228,240,252,264,276,288], "labelExpr": "(datum.value-48)%120==0 ? ['00:00', datum.value==168 ? '2009-09-19' : '09-' + (12 + datum.value/24)] : ''", "labelFlush": false, "tickSize": 5, "offset": 2, "labelPadding": 4, "labelLineHeight": 22}},
        "y": {"field": "v", "type": "quantitative", "scale": {"domain": [-4, 322], "nice": false, "zero": false},
          "axis": {"title": null, "values": [0,20,40,60,80,100,120,140,160,180,200,220,240,260,280,300,320], "labelExpr": "datum.value%100==0 ? datum.label : ''", "tickSize": 5, "labelPadding": 3}}
      },
      "layer": [
        {"transform": [{"filter": "datum.s=='sim'"}], "mark": {"type": "line", "interpolate": "monotone", "strokeWidth": 2.6, "color": "#1717c4", "clip": true}, "encoding": {}},
        {"transform": [{"filter": "datum.s=='obs'"}], "mark": {"type": "line", "strokeWidth": 1, "strokeDash": [4, 3], "color": "#f03030", "clip": true}, "encoding": {}},
        {"transform": [{"filter": "datum.s=='obs'"}], "mark": {"type": "point", "shape": "diamond", "filled": true, "size": 55, "color": "#e80000", "opacity": 1, "clip": true}, "encoding": {}}
      ]
    },
    {
      "width": 489, "height": 209,
      "title": {"text": ["SSC-HamLuong: Thuc do\u00a0\u00a0\u00a0[g/m^3]", "SSC-HamLuong: Tinh toan [g/m^3]"], "dx": 7},
      "data": {"name": "p5"},
      "encoding": {
        "x": {"field": "h", "type": "quantitative", "scale": {"domain": [21.52, 351.32], "nice": false, "zero": false},
          "axis": {"title": null, "values": [24,36,48,60,72,84,96,108,120,132,144,156,168,180,192,204,216,228,240,252,264,276,288,300,312,324,336,348], "labelExpr": "(datum.value-48)%120==0 ? ['00:00', datum.value==48 ? '2009-09-14' : '09-' + (12 + datum.value/24)] : ''", "labelFlush": false, "tickSize": 5, "offset": 2, "labelPadding": 4, "labelLineHeight": 22}},
        "y": {"field": "v", "type": "quantitative", "scale": {"domain": [-19, 576], "nice": false, "zero": false},
          "axis": {"title": null, "values": [0,50,100,150,200,250,300,350,400,450,500,550], "labelExpr": "datum.value%200==0 ? datum.label : ''", "tickSize": 5, "labelPadding": 3}}
      },
      "layer": [
        {"transform": [{"filter": "datum.s=='sim'"}], "mark": {"type": "line", "interpolate": "monotone", "strokeWidth": 2.6, "color": "#1717c4", "clip": true}, "encoding": {}},
        {"transform": [{"filter": "datum.s=='obs'"}], "mark": {"type": "line", "strokeWidth": 1, "strokeDash": [4, 3], "color": "#f03030", "clip": true}, "encoding": {}},
        {"transform": [{"filter": "datum.s=='obs'"}], "mark": {"type": "point", "shape": "diamond", "filled": true, "size": 55, "color": "#e80000", "opacity": 1, "clip": true}, "encoding": {}}
      ]
    },
    {
      "width": 486, "height": 209,
      "title": {"text": ["SSC-Dinh An: Thuc do [g/m^3]", "SSC-Dinh An: Thuc do [g/m^3]"]},
      "data": {"name": "p6"},
      "encoding": {
        "x": {"field": "h", "type": "quantitative", "scale": {"domain": [6.23, 486.58], "nice": false, "zero": false},
          "axis": {"title": null, "values": [12,24,36,48,60,72,84,96,108,120,132,144,156,168,180,192,204,216,228,240,252,264,276,288,300,312,324,336,348,360,372,384,396,408,420,432,444,456,468,480], "labelExpr": "(datum.value-48)%120==0 ? ['00:00', datum.value==48 ? '2009-09-14' : '09-' + (12 + datum.value/24)] : ''", "labelFlush": false, "tickSize": 5, "offset": 2, "labelPadding": 4, "labelLineHeight": 22}},
        "y": {"field": "v", "type": "quantitative", "scale": {"domain": [42, 309], "nice": false, "zero": false},
          "axis": {"title": null, "values": [60,80,100,120,140,160,180,200,220,240,260,280,300], "labelExpr": "datum.value%100==0 ? datum.label : ''", "tickSize": 5, "labelPadding": 3}}
      },
      "layer": [
        {"transform": [{"filter": "datum.s=='sim'"}], "mark": {"type": "line", "interpolate": "monotone", "strokeWidth": 2.6, "color": "#1717c4", "clip": true}, "encoding": {}},
        {"transform": [{"filter": "datum.s=='obs'"}], "mark": {"type": "line", "strokeWidth": 1, "strokeDash": [4, 3], "color": "#f03030", "clip": true}, "encoding": {}},
        {"transform": [{"filter": "datum.s=='obs'"}], "mark": {"type": "point", "shape": "diamond", "filled": true, "size": 55, "color": "#e80000", "opacity": 1, "clip": true}, "encoding": {}}
      ]
    }
  ]
}
